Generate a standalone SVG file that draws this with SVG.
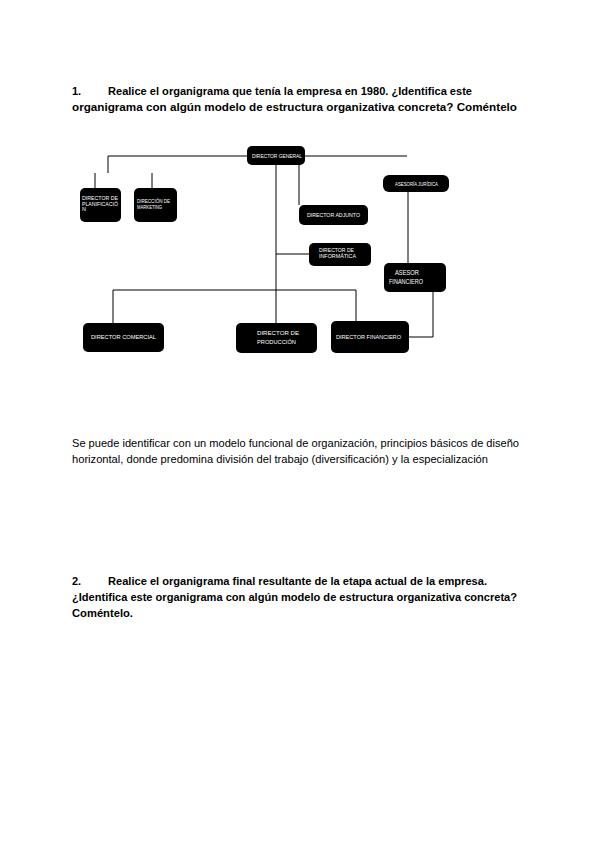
<svg xmlns="http://www.w3.org/2000/svg" width="600" height="848" viewBox="0 0 600 848">
<style>
.h{font-family:"Liberation Sans",Arial,sans-serif;font-size:11px;font-weight:bold;fill:#000}
.p{font-family:"Liberation Sans",Arial,sans-serif;font-size:11px;fill:#000}
.box{fill:#000}
.bt{font-family:"Liberation Sans",Arial,sans-serif;font-size:5.5px;fill:#fff}
.bt6{font-family:"Liberation Sans",Arial,sans-serif;font-size:6.5px;fill:#fff}
.ln{stroke:#000;stroke-width:1;fill:none}
</style>
<rect width="600" height="848" fill="#fff"/>
<g id="heading1">
<text class="h" x="72" y="95">1.</text>
<text class="h" x="108" y="95" textLength="364" lengthAdjust="spacingAndGlyphs">Realice el organigrama que tenía la empresa en 1980. ¿Identifica este</text>
<text class="h" x="72" y="111" textLength="445" lengthAdjust="spacingAndGlyphs">organigrama con algún modelo de estructura organizativa concreta? Coméntelo</text>
</g>
<g id="connectors">
<polyline class="ln" points="108,173 108,156 407,156"/>
<line class="ln" x1="95" y1="173" x2="95" y2="188"/>
<line class="ln" x1="152" y1="173" x2="152" y2="188"/>
<line class="ln" x1="276" y1="165" x2="276" y2="323"/>
<line class="ln" x1="299" y1="165" x2="299" y2="205"/>
<line class="ln" x1="276" y1="254" x2="309" y2="254"/>
<polyline class="ln" points="113,323 113,290 356,290 356,321"/>
<line class="ln" x1="408" y1="192" x2="408" y2="263"/>
<polyline class="ln" points="433,292 433,337 409,337"/>
</g>
<g id="director-general">
<rect class="box" x="247" y="146" width="58" height="19" rx="5"/>
<text class="bt" x="252" y="157.5" textLength="50" lengthAdjust="spacingAndGlyphs">DIRECTOR GENERAL</text>
</g>
<g id="director-planificacion">
<rect class="box" x="80" y="188" width="41" height="34" rx="5"/>
<text class="bt" x="82" y="200" textLength="36" lengthAdjust="spacingAndGlyphs">DIRECTOR DE</text>
<text class="bt" x="82" y="205.5" textLength="36" lengthAdjust="spacingAndGlyphs">PLANIFICACIÓ</text>
<text class="bt" x="82" y="211">N</text>
</g>
<g id="direccion-marketing">
<rect class="box" x="134" y="188" width="43" height="34" rx="5"/>
<text class="bt" x="137" y="203" textLength="33" lengthAdjust="spacingAndGlyphs">DIRECCIÓN DE</text>
<text class="bt" x="137" y="208.5" textLength="25" lengthAdjust="spacingAndGlyphs">MARKETING</text>
</g>
<g id="director-adjunto">
<rect class="box" x="299" y="205" width="69" height="20" rx="5"/>
<text class="bt" x="307" y="217" textLength="53" lengthAdjust="spacingAndGlyphs">DIRECTOR ADJUNTO</text>
</g>
<g id="asesoria-juridica">
<rect class="box" x="383" y="175" width="66" height="17" rx="6"/>
<text class="bt" x="395" y="185.5" textLength="43" lengthAdjust="spacingAndGlyphs">ASESORÍA JURÍDICA</text>
</g>
<g id="director-informatica">
<rect class="box" x="309" y="243" width="62" height="23" rx="5"/>
<text class="bt" x="319" y="252" textLength="35" lengthAdjust="spacingAndGlyphs">DIRECTOR DE</text>
<text class="bt" x="319" y="258" textLength="37" lengthAdjust="spacingAndGlyphs">INFORMÁTICA</text>
</g>
<g id="asesor-financiero">
<rect class="box" x="384" y="263" width="62" height="29" rx="5"/>
<text class="bt6" x="395" y="275" textLength="24" lengthAdjust="spacingAndGlyphs">ASESOR</text>
<text class="bt6" x="389" y="284" textLength="34" lengthAdjust="spacingAndGlyphs">FINANCIERO</text>
</g>
<g id="director-comercial">
<rect class="box" x="83" y="323" width="81" height="29" rx="5"/>
<text class="bt" x="91" y="339" textLength="65" lengthAdjust="spacingAndGlyphs">DIRECTOR COMERCIAL</text>
</g>
<g id="director-produccion">
<rect class="box" x="236" y="323" width="81" height="30" rx="5"/>
<text class="bt" x="257" y="335" textLength="42" lengthAdjust="spacingAndGlyphs">DIRECTOR DE</text>
<text class="bt" x="257" y="344" textLength="39" lengthAdjust="spacingAndGlyphs">PRODUCCIÓN</text>
</g>
<g id="director-financiero">
<rect class="box" x="331" y="321" width="78" height="32" rx="5"/>
<text class="bt" x="336" y="339" textLength="65" lengthAdjust="spacingAndGlyphs">DIRECTOR FINANCIERO</text>
</g>
<g id="answer">
<text class="p" x="72" y="447" textLength="447" lengthAdjust="spacingAndGlyphs">Se puede identificar con un modelo funcional de organización, principios básicos de diseño</text>
<text class="p" x="72" y="463" textLength="416" lengthAdjust="spacingAndGlyphs">horizontal, donde predomina división del trabajo (diversificación) y la especialización</text>
</g>
<g id="heading2">
<text class="h" x="72" y="585">2.</text>
<text class="h" x="108" y="585" textLength="379" lengthAdjust="spacingAndGlyphs">Realice el organigrama final resultante de la etapa actual de la empresa.</text>
<text class="h" x="72" y="601" textLength="445" lengthAdjust="spacingAndGlyphs">¿Identifica este organigrama con algún modelo de estructura organizativa concreta?</text>
<text class="h" x="72" y="617" textLength="61" lengthAdjust="spacingAndGlyphs">Coméntelo.</text>
</g>
</svg>
